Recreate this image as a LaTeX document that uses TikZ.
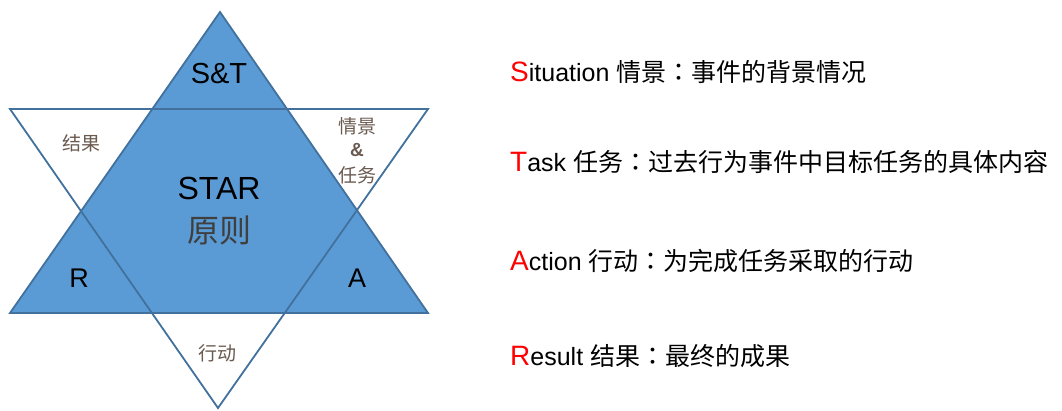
\documentclass[tikz,border=0pt]{standalone}
\usepackage{fontspec}
\setmainfont{Liberation Sans}
\newfontfamily\cjk{Noto Sans CJK SC}
\newfontfamily\cjktc{Noto Sans CJK TC}
\definecolor{starblue}{HTML}{5B9BD5}
\definecolor{staredge}{HTML}{41719C}
\definecolor{softlabel}{HTML}{6A5A50}
\definecolor{darklabel}{HTML}{3F3F3F}
\definecolor{initred}{HTML}{FF0000}
\tikzset{
  tri/.style={draw=staredge, line width=1.8pt, line join=miter},
  biglabel/.style={inner sep=0pt, anchor=base, font=\fontsize{29}{32}\selectfont},
  softcjk/.style={inner sep=0pt, text=softlabel, font=\cjk\fontsize{19}{22}\selectfont},
  legend/.style={inner sep=0pt, anchor=base west, font=\fontsize{25}{28}\selectfont},
}
\newcommand{\initial}[1]{{\fontsize{28}{30}\selectfont\color{initred}#1}}
\newcommand{\midcolon}{{\cjktc ：}}
\begin{document}
\begin{tikzpicture}[x=1pt,y=-1pt]
\useasboundingbox (0,0) rectangle (1062,410);
% vertices
\coordinate (ua) at (220,12);
\coordinate (ul) at (10,313);
\coordinate (ur) at (428,313);
\coordinate (dl) at (10,109);
\coordinate (dr) at (428,109);
\coordinate (da) at (218,408);
% triangles
\fill[white] (dl) -- (dr) -- (da) -- cycle;
\fill[starblue] (ua) -- (ur) -- (ul) -- cycle;
\draw[tri] (dl) -- (dr) -- (da) -- cycle;
\draw[tri] (ua) -- (ur) -- (ul) -- cycle;
% labels in star
\node[biglabel] (st) at (219,83) {S\&T};
\node[biglabel, font=\fontsize{32}{36}\selectfont] (star) at (219,199) {STAR};
\node[inner sep=0pt, text=darklabel, font=\cjk\fontsize{32}{36}\selectfont] (yz) at (219,230) {原则};
\node[biglabel, font=\fontsize{27}{30}\selectfont] (r) at (79,287) {R};
\node[biglabel, font=\fontsize{27}{30}\selectfont] (a) at (357,287) {A};
\node[softcjk] (jg) at (81,143) {结果};
\node[softcjk] (qj) at (357,126) {情景};
\node[softcjk, font=\fontsize{19}{22}\selectfont\bfseries] (amp) at (357,150) {\&};
\node[softcjk] (rw) at (357,175) {任务};
\node[softcjk] (xd) at (217,353) {行动};
% legend
\node[legend] (ls) at (510,81) {\initial{S}ituation {\cjk\fontsize{25}{28}\selectfont 情景\midcolon 事件的背景情况}};
\node[legend] (lt) at (510,171) {\initial{T}ask {\cjk\fontsize{25}{28}\selectfont 任务\midcolon 过去行为事件中目标任务的具体内容}};
\node[legend] (la) at (510,270) {\initial{A}ction {\cjk\fontsize{25}{28}\selectfont 行动\midcolon 为完成任务采取的行动}};
\node[legend] (lr) at (510,365) {\initial{R}esult {\cjk\fontsize{25}{28}\selectfont 结果\midcolon 最终的成果}};
\end{tikzpicture}
\end{document}
